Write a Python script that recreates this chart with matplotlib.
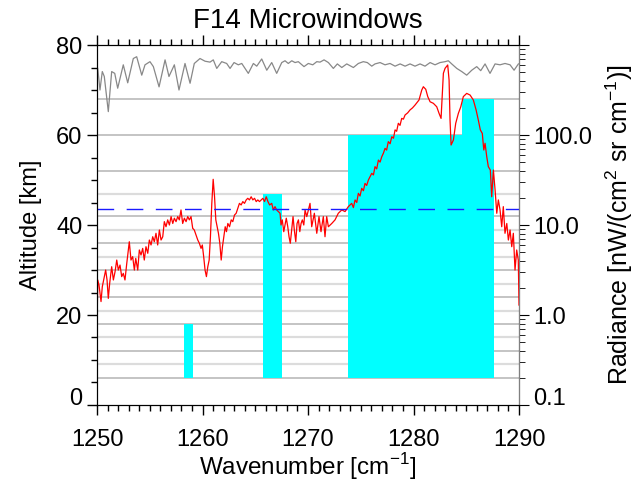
import matplotlib
matplotlib.use('Agg')
import matplotlib.pyplot as plt
from matplotlib.ticker import MultipleLocator, FixedLocator, LogLocator, NullFormatter
from matplotlib.transforms import ScaledTranslation

plt.rcParams['font.family'] = ['Liberation Sans', 'DejaVu Sans']
plt.rcParams['mathtext.fontset'] = 'custom'
plt.rcParams['mathtext.rm'] = 'Liberation Sans'

# measured radiance spectrum [nW/(cm2 sr cm-1)]
rad_wn = [1250.0, 1250.07, 1250.19, 1250.38, 1250.5, 1250.69, 1250.82, 1250.95, 1251.07, 1251.2,
          1251.39, 1251.55, 1251.71, 1251.87, 1252.02, 1252.18, 1252.34, 1252.49, 1252.65, 1252.82,
          1252.97, 1253.06, 1253.22, 1253.38, 1253.54, 1253.67, 1253.86, 1254.01, 1254.17, 1254.33,
          1254.48, 1254.64, 1254.81, 1254.96, 1255.12, 1255.28, 1255.43, 1255.59, 1255.75, 1255.91,
          1256.07, 1256.23, 1256.38, 1256.54, 1256.7, 1256.86, 1257.02, 1257.18, 1257.33, 1257.49,
          1257.65, 1257.8, 1257.96, 1258.12, 1258.28, 1258.44, 1258.6, 1258.75, 1258.91, 1259.07,
          1259.22, 1259.38, 1259.55, 1259.7, 1259.86, 1259.98, 1260.11, 1260.24, 1260.37, 1260.5,
          1260.63, 1260.75, 1260.88, 1261.01, 1261.14, 1261.26, 1261.39, 1261.51, 1261.64, 1261.77,
          1261.89, 1262.02, 1262.15, 1262.27, 1262.4, 1262.56, 1262.72, 1262.87, 1263.03, 1263.19,
          1263.34, 1263.5, 1263.66, 1263.82, 1263.98, 1264.14, 1264.29, 1264.45, 1264.61, 1264.77,
          1264.93, 1265.09, 1265.24, 1265.4, 1265.56, 1265.72, 1265.88, 1266.04, 1266.2, 1266.36,
          1266.56, 1266.71, 1266.87, 1267.03, 1267.19, 1267.35, 1267.44, 1267.56, 1267.7, 1267.82,
          1267.94, 1268.08, 1268.2, 1268.32, 1268.46, 1268.58, 1268.7, 1268.84, 1268.96, 1269.09,
          1269.22, 1269.34, 1269.46, 1269.6, 1269.72, 1269.88, 1270.19, 1270.35, 1270.6, 1270.83,
          1271.04, 1271.23, 1271.45, 1271.61, 1271.77, 1271.93, 1272.25, 1272.56, 1272.87, 1273.2,
          1273.51, 1273.82, 1274.14, 1274.3, 1274.46, 1274.62, 1274.77, 1274.93, 1275.09, 1275.25,
          1275.4, 1275.56, 1275.72, 1275.88, 1276.04, 1276.2, 1276.35, 1276.51, 1276.67, 1276.83,
          1276.99, 1277.15, 1277.3, 1277.45, 1277.61, 1277.78, 1277.94, 1278.1, 1278.25, 1278.4,
          1278.56, 1278.72, 1278.88, 1279.04, 1279.2, 1279.44, 1279.67, 1279.9,
          1280.14, 1280.52, 1280.78, 1280.93, 1281.16, 1281.35, 1281.57, 1281.88, 1282.2, 1282.42,
          1282.61, 1282.73, 1282.83, 1282.99, 1283.24, 1283.37, 1283.46, 1283.56, 1283.78, 1284.0,
          1284.25, 1284.48, 1284.72, 1285.04, 1285.36, 1285.67, 1285.93, 1286.14, 1286.33, 1286.52,
          1286.66, 1286.78, 1286.94, 1287.09, 1287.28, 1287.41, 1287.57, 1287.73, 1287.89, 1288.04,
          1288.2, 1288.36, 1288.51, 1288.67, 1288.84, 1288.99, 1289.15, 1289.31, 1289.46, 1289.62,
          1289.78, 1289.93, 1290.0]
rad_val = [0.72, 2.45, 2.15, 1.41, 2.06, 2.67, 3.16, 2.45, 1.53, 2.25,
           3.44, 2.45, 3.03, 4.08, 3.16, 3.59, 2.67, 2.9, 2.45, 3.75,
           5.28, 6.52, 4.08, 4.45, 3.16, 4.26, 3.16, 5.28, 4.64, 5.5,
           4.08, 5.74, 4.85, 6.81, 6.0, 7.41, 6.52, 8.09, 6.0, 8.8,
           6.81, 7.41, 10.9, 9.57, 11.4, 10.0, 12.4, 10.4, 11.9, 10.9,
           12.4, 11.4, 14.7, 10.4, 11.9, 10.9, 12.4, 11.4, 12.4, 9.19,
           8.8, 7.74, 6.81, 6.27, 5.5, 6.0, 4.45, 3.16, 2.67, 3.44,
           4.08, 7.41, 17.4, 32.2, 20.6, 11.4, 9.57, 8.09, 6.27, 4.08,
           5.74, 7.41, 9.57, 8.43, 10.4, 9.57, 11.4, 10.9, 12.9, 13.5,
           15.3, 17.4, 16.7, 18.2, 17.4, 19.0, 19.8, 19.0, 20.6, 19.0,
           19.8, 18.2, 19.0, 18.2, 19.0, 19.8, 18.2, 20.6, 18.2, 16.7,
           17.4, 14.7, 16.0, 14.7, 14.1, 13.5, 10.0, 11.4, 8.43, 10.0,
           11.9, 9.57, 7.41, 6.27, 9.19, 12.4, 8.8, 6.52, 10.4, 11.4,
           8.43, 10.4, 11.4, 10.0, 14.7, 12.4, 17.4, 9.57, 13.5, 8.09,
           12.4, 8.43, 12.4, 7.41, 12.4, 9.57, 10.4, 11.4, 13.5, 14.7,
           14.1, 16.0, 17.4, 15.6, 19.0, 17.8, 22.5, 21.0, 25.6, 24.0,
           29.0, 27.5, 31.6, 34.5, 37.5, 36.0, 44.5, 42.0, 52.7, 50.0,
           57.4, 63.0, 71.1, 68.0, 84.4, 80.0, 95.7, 92.0, 114, 110,
           135, 128, 153, 150, 167, 176, 190, 200,
           215, 245, 316, 344, 322, 267, 234, 225, 206, 174,
           153, 290, 485, 551, 600, 408, 147, 77.4, 88.0, 135,
           174, 206, 267, 290, 278, 245, 190, 147, 114, 104,
           68.1, 80.9, 57.4, 44.5, 40.8, 20.6, 40.8, 24.5, 13.5, 19.0,
           14.7, 9.57, 16.0, 8.09, 10.4, 6.81, 8.8, 5.74, 8.09, 3.16,
           5.28, 4.08, 1.29]

# transmission spectrum, drawn in altitude units across the top
trans_wn = [1250.07, 1250.28, 1250.5, 1250.69, 1251.07, 1251.39, 1251.68, 1251.96, 1252.49, 1252.91,
            1253.44, 1253.76, 1254.24, 1254.55, 1255.02, 1255.34, 1255.88, 1256.45, 1256.82, 1257.33,
            1257.77, 1258.34, 1258.82, 1259.22, 1259.76, 1260.24, 1260.71, 1261.02, 1261.35, 1261.82,
            1262.29, 1262.61, 1262.99, 1263.39, 1263.72, 1264.34, 1264.82, 1265.14, 1265.61, 1266.09,
            1266.56, 1267.03, 1267.51, 1267.82, 1268.13, 1268.46, 1268.77, 1269.08, 1269.62, 1270.03,
            1270.45, 1270.83, 1271.14, 1271.52, 1271.93, 1272.4, 1272.78, 1273.2, 1273.67, 1274.3,
            1274.77, 1275.24, 1275.62, 1276.04, 1276.35, 1276.83, 1277.3, 1277.77, 1278.25, 1278.73,
            1279.2, 1279.67, 1280.14, 1280.62, 1281.09, 1281.57, 1282.04, 1282.51, 1282.99, 1283.3,
            1283.62, 1284.1, 1284.57, 1285.04, 1285.52, 1285.99, 1286.37, 1286.78, 1287.25, 1287.73,
            1288.2, 1288.67, 1289.15, 1289.53, 1289.94]
trans_km = [74.8, 70.0, 74.1, 73.0, 65.2, 74.1, 73.7, 70.4, 75.6, 71.6,
            77.0, 77.4, 73.3, 75.6, 76.3, 75.2, 70.7, 76.7, 73.0, 75.6,
            70.0, 75.9, 71.5, 75.9, 77.0, 76.4, 76.2, 76.7, 74.8, 76.3,
            75.9, 74.8, 76.1, 75.6, 75.9, 73.7, 75.9, 75.3, 76.9, 74.4,
            76.1, 73.7, 76.1, 76.5, 75.9, 76.5, 76.1, 76.3, 75.2, 75.9,
            75.6, 76.3, 76.2, 76.7, 76.1, 74.8, 75.8, 75.0, 75.8, 75.0,
            75.9, 76.3, 76.1, 75.3, 75.8, 76.1, 75.6, 75.9, 75.3, 75.8,
            75.3, 75.8, 75.3, 75.8, 75.3, 76.1, 75.6, 76.1, 76.3, 76.5,
            75.8, 74.8, 74.1, 73.3, 74.4, 75.2, 74.3, 75.8, 73.7, 75.8,
            75.6, 75.9, 75.6, 74.4, 75.8]

# microwindows: wavenumber start/end, altitude bottom/top
mw_start = [1258.2, 1265.75, 1273.8, 1284.6]
mw_end = [1259.1, 1267.55, 1287.6, 1287.6]
mw_bottom = [6, 6, 6, 6]
mw_top = [18, 47, 60, 68]

# retrieval levels [km]
levels_dark = [6, 12, 18, 24, 30, 36, 42, 52, 60, 68]
levels_light = [9, 15, 21, 27, 33, 39, 47]

noise_level = 15.0
rad_ticks = [0.1, 1, 10, 100, 1000]
rad_ticklabels = ['0.1', '1.0', '10.0', '100.0', '']

fig = plt.figure(figsize=(6.37, 4.83), dpi=100)
ax = fig.add_axes([0.1523, 0.1615, 0.6625, 0.7453])

for lv in levels_light:
    ax.axhline(lv, color='#dcdcdc', lw=1.6, zorder=1)
for lv in levels_dark:
    ax.axhline(lv, color='#b4b4b4', lw=1.1, zorder=1)

ax.bar(mw_start, [t - b for t, b in zip(mw_top, mw_bottom)],
       width=[e - s for s, e in zip(mw_start, mw_end)], bottom=mw_bottom,
       align='edge', color='#00ffff', zorder=2, linewidth=0)

ax.plot(trans_wn, trans_km, color='#888888', lw=0.9, zorder=3)

ax.set_xlim(1250, 1290)
ax.set_ylim(0, 80)
ax.xaxis.set_major_locator(MultipleLocator(10))
ax.xaxis.set_minor_locator(MultipleLocator(1))
ax.yaxis.set_major_locator(FixedLocator([0, 20, 40, 60, 80]))
ax.yaxis.set_minor_locator(MultipleLocator(5))
ax.tick_params(which='both', direction='out', top=True, labeltop=False, right=False, labelsize=17)
ax.tick_params(axis='x', which='major', pad=10)
ax.tick_params(which='major', length=7, width=1)
ax.tick_params(which='minor', length=4, width=1)
ax.set_xlabel('Wavenumber [cm$^{-1}$]', fontsize=17.5, labelpad=0)
ax.set_ylabel('Altitude [km]', fontsize=17, labelpad=10)
ax.set_title('F14 Microwindows', fontsize=20, pad=12)

ax2 = ax.twinx()
ax2.set_yscale('log')
ax2.set_ylim(0.1, 1000)
ax2.plot(rad_wn, rad_val, color='red', lw=0.9)
ax2.axhline(noise_level, color='#1a1aff', lw=1.0, dashes=(12, 9))
ax2.yaxis.set_major_locator(FixedLocator(rad_ticks))
ax2.yaxis.set_minor_locator(LogLocator(base=10, subs=range(2, 10)))
ax2.yaxis.set_minor_formatter(NullFormatter())
ax2.set_yticklabels(rad_ticklabels)
ax2.tick_params(which='both', direction='out', labelsize=17)
ax2.tick_params(which='major', length=7)
ax2.tick_params(which='minor', length=4)
ax2.spines['right'].set_color('#808080')
ax2.set_ylabel('Radiance [nW/(cm$^2$ sr cm$^{-1}$)]', fontsize=18, labelpad=8)
ax2.set_xlim(1250, 1290)

# lift the lowest labels on both sides clear of the bottom axis
lift = ScaledTranslation(0, 0.08, fig.dpi_scale_trans)
for a in (ax, ax2):
    tick0 = a.yaxis.get_major_ticks()[0]
    for lab in (tick0.label1, tick0.label2):
        lab.set_transform(lab.get_transform() + lift)

fig.savefig('out.png', dpi=100)
